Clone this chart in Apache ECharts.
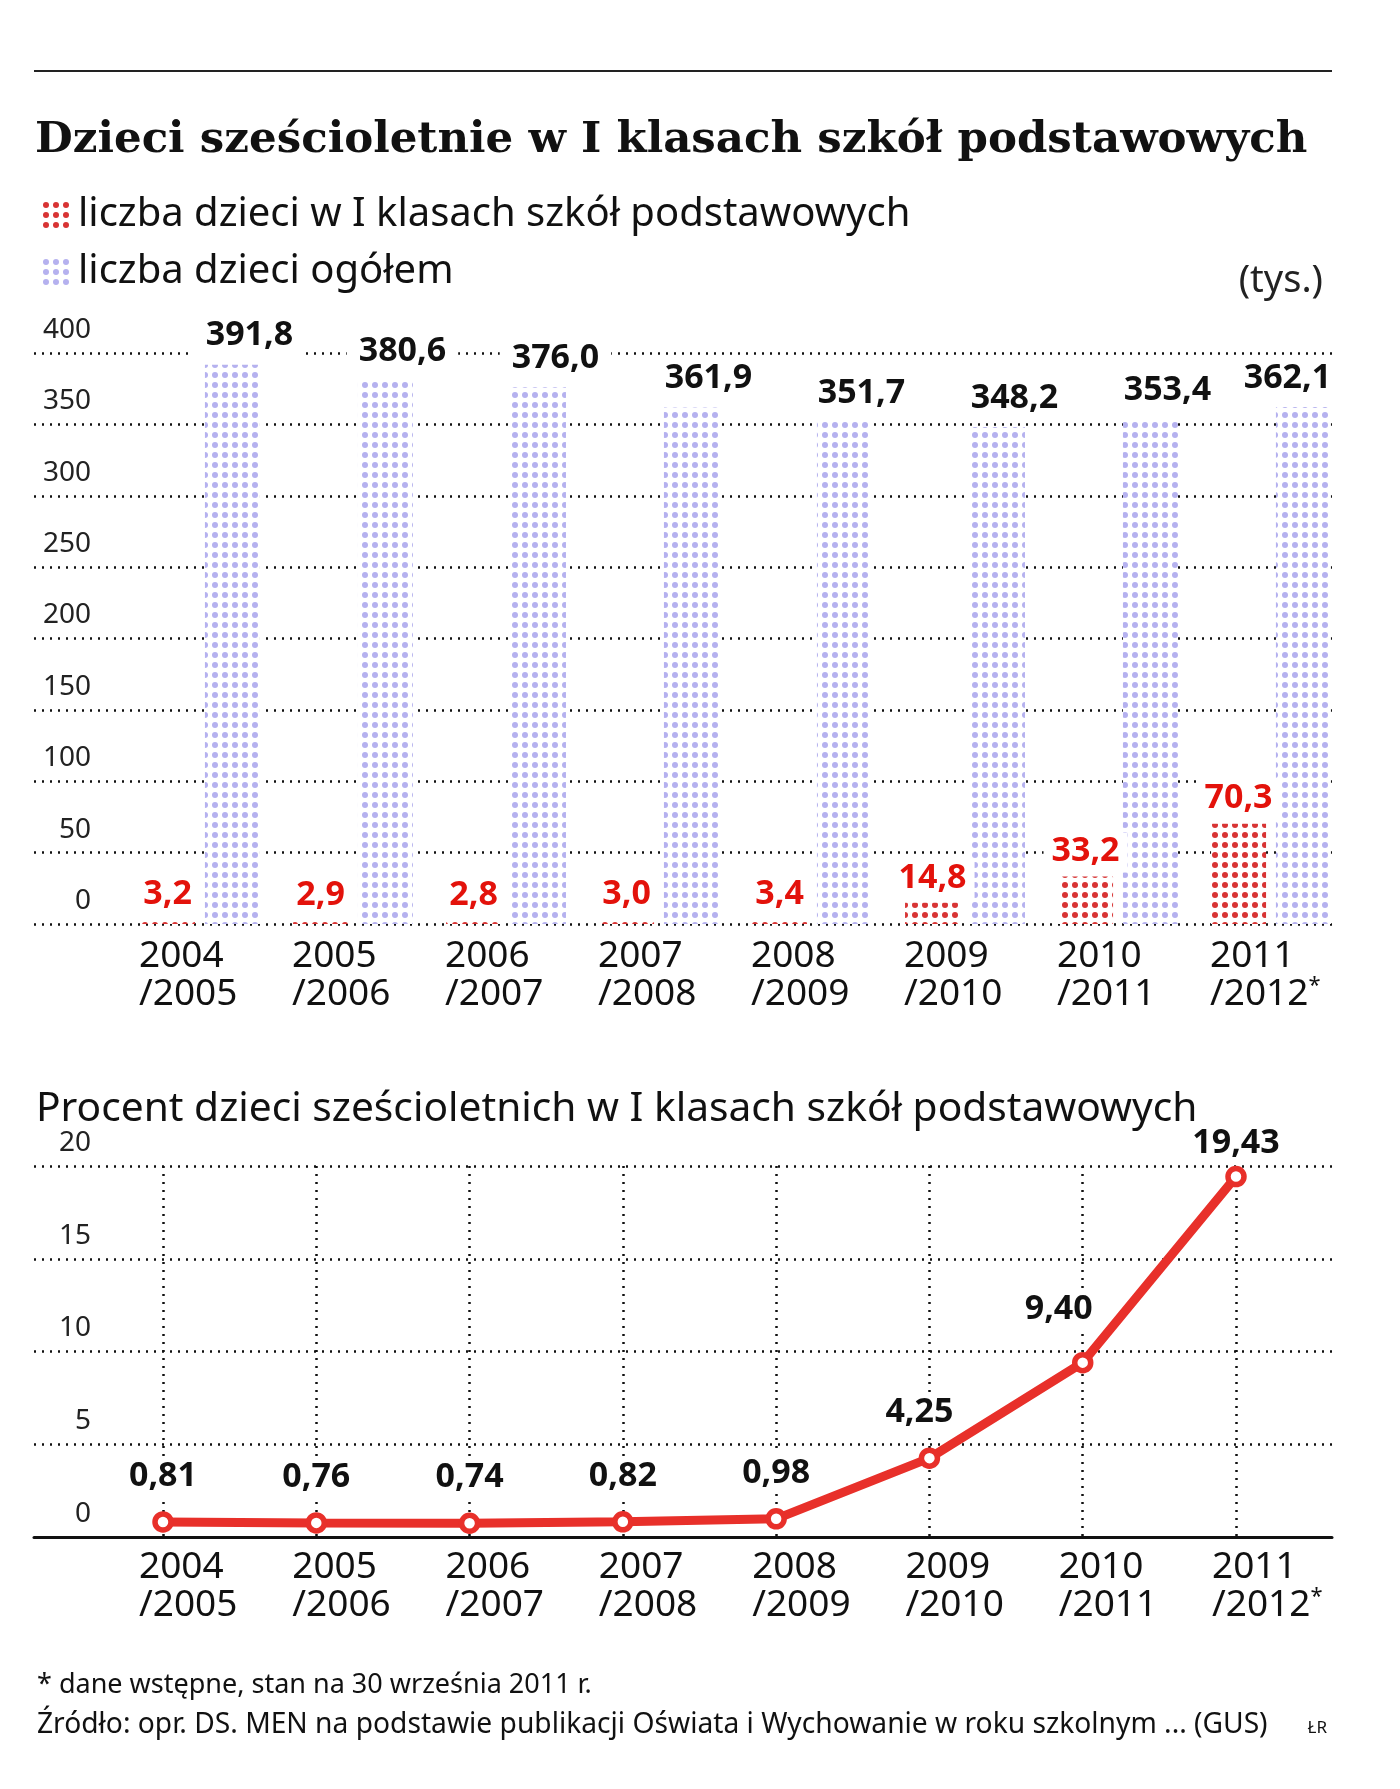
<!DOCTYPE html>
<html>
<head>
<meta charset="utf-8">
<script src="https://cdn.jsdelivr.net/npm/echarts@6/dist/echarts.min.js"></script>
<style>
  html, body { margin: 0; padding: 0; background: #fff; }
  #chart { width: 1400px; height: 1789px; }
  #rule { position: absolute; left: 34px; top: 70px; width: 1298px; height: 2px; background: #222; }
</style>
</head>
<body>
<div id="chart"></div>
<div id="rule"></div>
<script>
// school years
var years = ['2004/2005', '2005/2006', '2006/2007', '2007/2008', '2008/2009', '2009/2010', '2010/2011', '2011/2012*'];
// thousands of six-year-olds in first grade
var firstGrade = [3.2, 2.9, 2.8, 3.0, 3.4, 14.8, 33.2, 70.3];
// thousands of six-year-olds overall
var allKids = [391.8, 380.6, 376.0, 361.9, 351.7, 348.2, 353.4, 362.1];
// percent of six-year-olds in first grade
var percent = [0.81, 0.76, 0.74, 0.82, 0.98, 4.25, 9.40, 19.43];

var SANS = 'Noto Sans';
var RED_LABEL = '#e3120b';
var LINE_RED = '#e8302a';

function dots(color) {
    var c = document.createElement('canvas');
    c.width = 10; c.height = 10;
    var ctx = c.getContext('2d');
    ctx.fillStyle = '#fff';
    ctx.fillRect(0, 0, 10, 10);
    ctx.fillStyle = color;
    ctx.beginPath();
    ctx.arc(5, 5, 3, 0, Math.PI * 2);
    ctx.fill();
    return { image: c, repeat: 'repeat' };
}

function comma(v, d) {
    return v.toFixed(d).replace('.', ',');
}

function yearLabel(v) {
    var p = v.split('/');
    var star = p[1].indexOf('*') >= 0;
    return '{y|' + p[0] + '}\n{y|/' + p[1].replace('*', '') + '}' + (star ? '{s|*}' : '');
}

var yearRich = {
    y: { fontFamily: SANS, fontSize: 37, lineHeight: 38, color: '#111' },
    s: { fontFamily: SANS, fontSize: 22, lineHeight: 38, verticalAlign: 'top', color: '#111' }
};

var dotted = { color: '#111', width: 2.5, type: [2, 6] };

var yLabel = {
    fontFamily: SANS, fontSize: 28, color: '#222',
    align: 'right', verticalAlign: 'bottom', margin: -57,
    padding: [0, 0, 9, 0]
};

var chart = echarts.init(document.getElementById('chart'));

var option = {
    animation: false,
    backgroundColor: '#fff',
    title: [
        { text: 'Dzieci sześcioletnie w I klasach szkół podstawowych', left: 30, top: 109,
          textStyle: { fontFamily: 'DejaVu Serif', fontWeight: 'bold', fontSize: 43.5, lineHeight: 54, color: '#111' } },
        { text: '(tys.)', right: 72, top: 254,
          textStyle: { fontFamily: SANS, fontWeight: 'normal', fontSize: 38, lineHeight: 44, color: '#222' } },
        { text: 'Procent dzieci sześcioletnich w I klasach szkół podstawowych', left: 31, top: 1080,
          textStyle: { fontFamily: SANS, fontWeight: 'normal', fontSize: 40.7, lineHeight: 48, color: '#111' } },
        { text: '* dane wstępne, stan na 30 września 2011 r.', left: 32, top: 1664,
          textStyle: { fontFamily: SANS, fontWeight: 'normal', fontSize: 27, lineHeight: 32, color: '#111' } },
        { text: 'Źródło: opr. DS. MEN na podstawie publikacji Oświata i Wychowanie w roku szkolnym ... (GUS)', left: 32, top: 1704,
          textStyle: { fontFamily: SANS, fontWeight: 'normal', fontSize: 28.2, lineHeight: 32, color: '#111' } },
        { text: 'ŁR', right: 68, top: 1712,
          textStyle: { fontFamily: SANS, fontWeight: 'normal', fontSize: 17, lineHeight: 22, color: '#111' } }
    ],
    legend: {
        orient: 'vertical', left: 36, top: 188,
        itemWidth: 30, itemHeight: 30, itemGap: 13, icon: 'rect',
        selectedMode: false,
        textStyle: { fontFamily: SANS, fontSize: 40, lineHeight: 44, color: '#111', padding: [0, 0, 0, 2] },
        data: ['liczba dzieci w I klasach szkół podstawowych', 'liczba dzieci ogółem']
    },
    grid: [
        { left: 34, right: 68, top: 353, bottom: 865 },
        { left: 123.5, right: 52.5, top: 353, bottom: 865 },
        { left: 34, right: 68, top: 1166, bottom: 252 },
        { left: 163, right: 164, top: 1166, bottom: 252 }
    ],
    xAxis: [
        { gridIndex: 0, type: 'value', show: false },
        { gridIndex: 1, type: 'category', data: years,
          axisLine: { show: false }, axisTick: { show: false },
          axisLabel: { interval: 0, margin: 13, align: 'left', padding: [0, 0, 0, -61],
                       formatter: yearLabel, rich: yearRich } },
        { gridIndex: 2, type: 'value', min: 0, max: 1,
          axisLine: { show: true, lineStyle: { color: '#111', width: 3 } },
          axisTick: { show: false }, axisLabel: { show: false }, splitLine: { show: false } },
        { gridIndex: 3, type: 'category', data: years, boundaryGap: false,
          axisLine: { show: false }, axisTick: { show: false },
          splitLine: { show: true, lineStyle: dotted },
          axisLabel: { interval: 0, margin: 11, align: 'left', padding: [0, 0, 0, -24],
                       formatter: yearLabel, rich: yearRich } }
    ],
    yAxis: [
        { gridIndex: 0, type: 'value', min: 0, max: 400, interval: 50,
          axisLine: { show: false }, axisTick: { show: false },
          splitLine: { lineStyle: dotted }, axisLabel: yLabel },
        { gridIndex: 1, type: 'value', min: 0, max: 400, show: false },
        { gridIndex: 2, type: 'value', min: 0, max: 20, interval: 5,
          axisLine: { show: false }, axisTick: { show: false },
          splitLine: { lineStyle: dotted }, axisLabel: yLabel },
        { gridIndex: 3, type: 'value', min: 0, max: 20, show: false }
    ],
    series: [
        {
            name: 'liczba dzieci w I klasach szkół podstawowych',
            type: 'bar', xAxisIndex: 1, yAxisIndex: 1,
            data: firstGrade, barWidth: 55, barGap: '18%',
            itemStyle: { color: dots('#d83434') },
            label: {
                show: true, position: 'top', distance: 4,
                formatter: function (p) { return comma(p.value, 1); },
                fontFamily: SANS, fontWeight: 'bold', fontSize: 34, color: RED_LABEL,
                backgroundColor: '#fff', padding: [0, 8, 2, 8], lineHeight: 38
            }
        },
        {
            name: 'liczba dzieci ogółem',
            type: 'bar', xAxisIndex: 1, yAxisIndex: 1,
            data: allKids.map(function (v, i) {
                var last = i === allKids.length - 1;
                return { value: v, label: { offset: [last ? -16 : 17, 0] } };
            }),
            barWidth: 55, barGap: '18%',
            itemStyle: { color: dots('#b5b1ef') },
            label: {
                show: true, position: 'top', distance: 6,
                formatter: function (p) { return comma(p.value, 1); },
                fontFamily: SANS, fontWeight: 'bold', fontSize: 34, color: '#111',
                backgroundColor: '#fff', padding: [0, 12, 4, 12], lineHeight: 38
            }
        },
        {
            name: 'procent', type: 'line', xAxisIndex: 3, yAxisIndex: 3,
            data: percent.map(function (v, i) {
                var o = [0, 0];
                if (i === 5) o = [-10, 0];
                if (i === 6) o = [-24, -8];
                if (i === 7) o = [0, 12];
                return { value: v, label: { offset: o } };
            }),
            symbol: 'circle', symbolSize: 16,
            lineStyle: { color: LINE_RED, width: 9 },
            itemStyle: { color: '#fff', borderColor: LINE_RED, borderWidth: 5.5 },
            label: {
                show: true, position: 'top', distance: 14,
                formatter: function (p) { return comma(p.value, 2); },
                fontFamily: SANS, fontWeight: 'bold', fontSize: 34, color: '#111',
                backgroundColor: '#fff', padding: [0, 6, 2, 6], lineHeight: 38
            },
            z: 5
        }
    ]
};

chart.setOption(option);
</script>
</body>
</html>
